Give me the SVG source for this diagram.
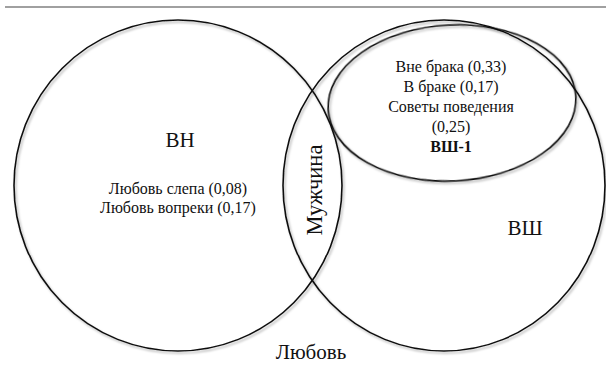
<svg xmlns="http://www.w3.org/2000/svg" width="606" height="365" viewBox="0 0 606 365">
<style>
.sh{fill:none;stroke:#111;stroke-width:1.6}
text{font-family:'Liberation Serif','Times New Roman',Times,'DejaVu Serif',serif;fill:#111;text-anchor:middle}
.big{font-size:21px}
.sm{font-size:16px}
.b{font-weight:bold}
</style>
<defs>
<filter id="ds" x="-10%" y="-10%" width="120%" height="120%">
<feDropShadow dx="1.5" dy="2" stdDeviation="1.2" flood-color="#000" flood-opacity="0.3"/>
</filter>
</defs>
<rect width="606" height="365" fill="#fff"/>
<line x1="5" y1="7" x2="606" y2="7" stroke="#a0a0a0" stroke-width="2"/>
<g id="node-vn">
<ellipse class="sh" filter="url(#ds)" cx="178" cy="185.5" rx="164" ry="165.5"/>
<text class="big" x="180" y="147">ВН</text>
<text class="sm" x="178" y="194">Любовь слепа (0,08)</text>
<text class="sm" x="178" y="213">Любовь вопреки (0,17)</text>
</g>
<g id="node-vsh">
<ellipse class="sh" filter="url(#ds)" cx="444" cy="185.5" rx="161" ry="165.5"/>
<text class="big" x="525" y="235">ВШ</text>
</g>
<g id="node-vsh1">
<ellipse class="sh" filter="url(#ds)" cx="452" cy="103" rx="124" ry="78" transform="rotate(-3 452 103)"/>
<text class="sm" x="451" y="72">Вне брака  (0,33)</text>
<text class="sm" x="451" y="92">В браке (0,17)</text>
<text class="sm" x="451" y="112">Советы поведения</text>
<text class="sm" x="451" y="132">(0,25)</text>
<text class="sm b" x="451" y="152">ВШ-1</text>
</g>
<g id="node-man">
<text transform="translate(322 190) rotate(-90)" x="0" y="0" font-size="22.5">Мужчина</text>
</g>
<g id="node-love">
<text class="big" x="311" y="359">Любовь</text>
</g>
<g id="connectors"/>
</svg>
